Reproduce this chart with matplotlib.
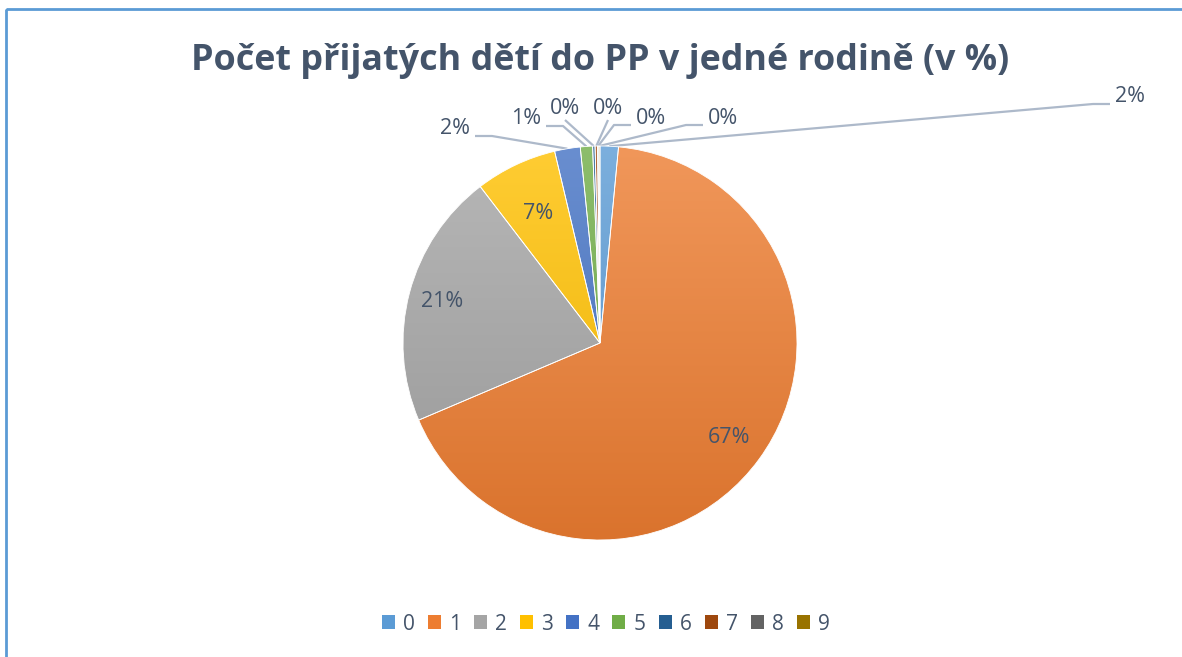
import numpy as np
import matplotlib
matplotlib.use('Agg')
import matplotlib.pyplot as plt
from matplotlib.patches import Patch, Rectangle
from matplotlib.colors import to_rgb

"""data"""
categories = ['0', '1', '2', '3', '4', '5', '6', '7', '8', '9']
values = [1.5, 67.1, 21.0, 6.7, 2.1, 1.0, 0.2, 0.2, 0.1, 0.1]
pct_labels = ['2%', '67%', '21%', '7%', '2%', '1%', '0%', '0%', '0%', '0%']
title = 'Počet přijatých dětí do PP v jedné rodině (v %)'

colors = ['#5B9BD5', '#ED7D31', '#A5A5A5', '#FFC000', '#4472C4',
          '#70AD47', '#255E91', '#9E480E', '#636363', '#997300']

"""layout (pixels)"""
W, H = 1182, 657
cx, cy, R = 600, 343, 197
inside = [False, True, True, True, False, False, False, False, False, False]
inside_frac = [0, 0.81, 0.83, 0.73, 0, 0, 0, 0, 0, 0]
# outside label centres, Excel-ish placement
out_xy = {0: (1130, 97), 4: (455, 129), 5: (526, 119), 6: (565, 108),
          7: (608, 108), 8: (651, 118), 9: (723, 118)}
# which side the leader line leaves the label (+1 right, -1 left, 0 below)
out_side = {0: -1, 4: 1, 5: 1, 6: 0, 7: 0, 8: -1, 9: -1}

txt_col = '#44546A'
line_col = '#ADB9CA'
plt.rcParams['font.family'] = ['Open Sans', 'DejaVu Sans']

fig = plt.figure(figsize=(W/100, H/100), dpi=100)
ax = fig.add_axes([0, 0, 1, 1])

wedges, _ = ax.pie(values, colors=colors, startangle=270, counterclock=True,
                   center=(cx, cy), radius=R,
                   wedgeprops=dict(edgecolor='white', linewidth=0.6))

# gradient fill clipped to each wedge
for w, c in zip(wedges, colors):
    c = np.array(to_rgb(c))
    top = c + (1 - c)*0.2
    bot = c*0.92
    t = np.linspace(0, 1, 256)[:, None, None]
    grad = top*(1-t) + bot*t
    im = ax.imshow(grad, extent=(cx-R, cx+R, cy+R, cy-R), origin='upper',
                   aspect='auto', interpolation='bilinear', zorder=0.5)
    im.set_clip_path(w)
    w.set_facecolor('none')

# labels
cum = np.cumsum([0] + values[:-1])
tot = sum(values)
for i, v in enumerate(values):
    mid = np.deg2rad(270 + 360*(cum[i] + v/2)/tot)
    if inside[i]:
        r = R*inside_frac[i]
        ax.text(cx + r*np.cos(mid), cy + r*np.sin(mid), pct_labels[i],
                ha='center', va='center', fontsize=15.5, color=txt_col)
    else:
        lx, ly = out_xy[i]
        ax.text(lx, ly, pct_labels[i], ha='center', va='center',
                fontsize=15.5, color=txt_col)
        ex, ey = cx + R*np.cos(mid), cy + R*np.sin(mid)
        s = out_side[i]
        if s == 0:
            xs = [lx, ex]
            ys = [ly + 12, ey]
        else:
            x0 = lx + s*20
            xs = [x0, x0 + s*17, ex]
            ys = [ly + 7, ly + 7, ey]
        ax.plot(xs, ys, color=line_col, lw=1.6, zorder=0.4,
                solid_capstyle='butt')

ax.text(600, 61, title, ha='center', va='center', fontsize=25.8,
        fontweight='bold', color=txt_col)

# chart frame (cropped at right/bottom)
ax.add_patch(Rectangle((6, 9), 1300, 800, fill=False, edgecolor='#5B9BD5',
                       lw=2, zorder=5))

handles = [Patch(facecolor=c, edgecolor='none') for c in colors]
fig.legend(handles, categories, loc='center', bbox_to_anchor=(606/W, 1-624/H),
           ncol=10, frameon=False, fontsize=15, labelcolor=txt_col,
           handlelength=0.62, handleheight=0.62, handletextpad=0.4,
           columnspacing=0.62)

ax.set_xlim(0, W)
ax.set_ylim(H, 0)
ax.set_aspect('equal')
ax.axis('off')

plt.savefig('out.png', dpi=100)
